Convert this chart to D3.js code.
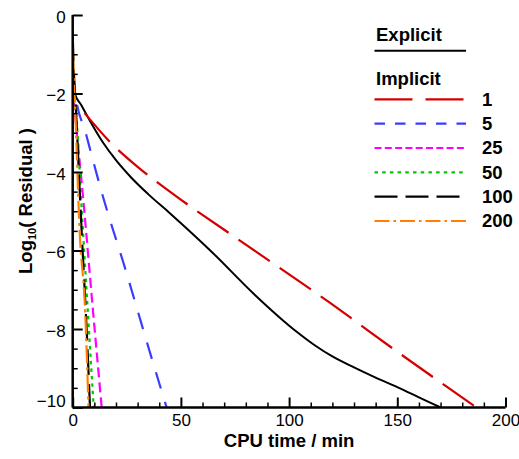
<!DOCTYPE html>
<html>
<head>
<meta charset="utf-8">
<script src="https://cdn.jsdelivr.net/npm/d3@7"></script>
<style>
  html, body { margin: 0; padding: 0; background: #fff; }
  text { font-family: "Liberation Sans", Arial, Helvetica, sans-serif; fill: #000; }
</style>
</head>
<body>
<svg id="chart" width="519" height="459"></svg>
<script>
// Convergence history: CPU time (min) vs log10 of the residual

// Explicit scheme
const explicitTime   = [0, 0.4, 1.0, 4, 8, 14, 20, 27, 35, 44.9, 64.9, 83.4, 103.5, 112, 120, 130, 140, 150, 160, 170];
const explicitLogRes = [-0.6, -1.6, -2.0, -2.3, -2.7, -3.25, -3.7, -4.14, -4.57, -5.05, -6.07, -7.09, -8.07, -8.42, -8.7, -8.98, -9.24, -9.48, -9.74, -10];

// Implicit scheme, one run per setting
const implicitLabels = ["1", "5", "25", "50", "100", "200"];

const implicit1Time     = [5.5, 17.5, 30, 44.9, 80, 118.8, 150, 186.6];
const implicit1LogRes   = [-2.5, -3.25, -3.87, -4.5, -5.85, -7.33, -8.58, -10];

const implicit5Time     = [0.3, 1.2, 6, 14.1, 24.2, 34.9, 43.4];
const implicit5LogRes   = [-1.5, -2.0, -3.0, -4.65, -6.45, -8.45, -10];

const implicit25Time    = [0, 0.4, 1.06, 4.9, 9, 13.4];
const implicit25LogRes  = [-0.6, -2.1, -2.5, -4.71, -7.3, -10];

const implicit50Time    = [0, 0.5, 1.7, 4.0, 9.7];
const implicit50LogRes  = [-0.8, -2.1, -2.6, -4.8, -10];

const implicit100Time   = [0, 0.5, 1.2, 4.2, 6.3, 8.0];
const implicit100LogRes = [-0.5, -1.4, -2.1, -5.6, -7.85, -10];

const implicit200Time   = [0, 0.4, 1.0, 3.2, 5.8, 7.3];
const implicit200LogRes = [-0.3, -1.5, -2.2, -5.5, -7.6, -10];

// Axis ticks
const xTickValues = [0, 50, 100, 150, 200];
const yTickValues = [0, -2, -4, -6, -8, -10];

// ---------------------------------------------------------------
const implicitTimes = [implicit1Time, implicit5Time, implicit25Time, implicit50Time, implicit100Time, implicit200Time];
const implicitRes   = [implicit1LogRes, implicit5LogRes, implicit25LogRes, implicit50LogRes, implicit100LogRes, implicit200LogRes];

const implicitStyle = [
  { color: "#d40000", plotDash: "38,12",        keyDash: "38,13" },
  { color: "#3c3cff", plotDash: "17,14",        keyDash: "10.5,10" },
  { color: "#ff00ff", plotDash: "10,5",         keyDash: "7,3.3" },
  { color: "#00c800", plotDash: "3.5,4",        keyDash: "3.5,4.2" },
  { color: "#000000", plotDash: "26,9",         keyDash: "23,8" },
  { color: "#ff8000", plotDash: "18,4,3,4",     keyDash: "15,4,2.5,4" }
];

const svg = d3.select("#chart");
const plotLeft = 72.7, plotRight = 505.5, plotTop = 15, plotBottom = 407.5;

const x = d3.scaleLinear().domain([0, 200]).range([plotLeft, plotRight]);
const y = d3.scaleLinear().domain([-10, 0]).range([plotBottom, plotTop]);

// clip for the curves
svg.append("defs").append("clipPath").attr("id", "plotClip")
  .append("rect").attr("x", plotLeft).attr("y", plotTop - 2)
  .attr("width", plotRight - plotLeft + 2).attr("height", plotBottom - plotTop + 2);

const line = d3.line().x(d => x(d[0])).y(d => y(d[1])).curve(d3.curveMonotoneX);

const curves = svg.append("g").attr("clip-path", "url(#plotClip)");

curves.append("path")
  .datum(d3.zip(explicitTime, explicitLogRes))
  .attr("d", line)
  .attr("fill", "none").attr("stroke", "#000").attr("stroke-width", 2);

implicitTimes.forEach((t, i) => {
  curves.append("path")
    .datum(d3.zip(t, implicitRes[i]))
    .attr("d", line)
    .attr("fill", "none")
    .attr("stroke", implicitStyle[i].color)
    .attr("stroke-width", 2.2)
    .attr("stroke-dasharray", implicitStyle[i].plotDash);
});

// ---------------- axes ----------------
const xMinor = d3.range(0, 201, 10).filter(v => v % 50 !== 0);
const yMinor = d3.range(-10, 0.01, 0.5).filter(v => v % 2 !== 0);

svg.append("g").attr("transform", `translate(0,${plotBottom})`)
  .call(d3.axisBottom(x).tickValues(xMinor).tickSize(-5).tickFormat(""))
  .call(g => g.select(".domain").remove())
  .call(g => g.selectAll("line").attr("stroke-width", 1.5));
const xMajor = svg.append("g").attr("transform", `translate(0,${plotBottom})`)
  .call(d3.axisBottom(x).tickValues(xTickValues).tickSize(-10).tickPadding(6.5).tickFormat(d3.format("d")));
xMajor.select(".domain").attr("stroke-width", 2.5).attr("d", `M${plotLeft},0H${plotRight}`);
xMajor.selectAll("line").attr("stroke-width", 2);
xMajor.selectAll("text").attr("font-size", 17).style("font-family", '"Liberation Sans", Arial, sans-serif');

svg.append("g").attr("transform", `translate(${plotLeft},0)`)
  .call(d3.axisLeft(y).tickValues(yMinor).tickSize(-5).tickFormat(""))
  .call(g => g.select(".domain").remove())
  .call(g => g.selectAll("line").attr("stroke-width", 1.5));
const yMajor = svg.append("g").attr("transform", `translate(${plotLeft},0)`)
  .call(d3.axisLeft(y).tickValues(yTickValues).tickSize(-10).tickPadding(7).tickFormat(d3.format("d")));
yMajor.select(".domain").attr("stroke-width", 2.5).attr("d", `M0,${plotTop}V${plotBottom}`);
yMajor.selectAll("line").attr("stroke-width", 2);
yMajor.selectAll("text")
  .attr("font-size", 17)
  .attr("dy", d => d === -10 ? "-0.05em" : "0.42em")
  .style("font-family", '"Liberation Sans", Arial, sans-serif');

// axis titles
svg.append("text")
  .attr("x", (plotLeft + plotRight) / 2).attr("y", 446.5)
  .attr("text-anchor", "middle")
  .attr("font-size", 18.5).attr("font-weight", "bold")
  .text("CPU time / min");

const yTitle = svg.append("text")
  .attr("transform", "translate(31.5,201) rotate(-90)")
  .attr("text-anchor", "middle")
  .attr("font-size", 18.5).attr("font-weight", "bold");
yTitle.append("tspan").text("Log");
yTitle.append("tspan").attr("font-size", 11).attr("dy", 4).text("10");
yTitle.append("tspan").attr("dy", -4).text("( Residual )");

// ---------------- legend ----------------
const legend = svg.append("g");
const keyX0 = 374.5, keyX1 = 466, labelX = 482;

legend.append("text").attr("x", 376).attr("y", 40.5)
  .attr("font-size", 18.5).attr("font-weight", "bold").text("Explicit");
legend.append("line")
  .attr("x1", keyX0).attr("x2", keyX1).attr("y1", 50.7).attr("y2", 50.7)
  .attr("stroke", "#000").attr("stroke-width", 2);

legend.append("text").attr("x", 376).attr("y", 84.5)
  .attr("font-size", 18.5).attr("font-weight", "bold").text("Implicit");

const keyY = d3.scaleLinear().domain([0, 5]).range([99.3, 221]);
implicitLabels.forEach((lab, i) => {
  const yy = keyY(i);
  legend.append("line")
    .attr("x1", keyX0).attr("x2", keyX1).attr("y1", yy).attr("y2", yy)
    .attr("stroke", implicitStyle[i].color).attr("stroke-width", 2.2)
    .attr("stroke-dasharray", implicitStyle[i].keyDash);
  legend.append("text").attr("x", labelX).attr("y", yy + 6.4)
    .attr("font-size", 18.5).attr("font-weight", "bold").text(lab);
});
</script>
</body>
</html>
